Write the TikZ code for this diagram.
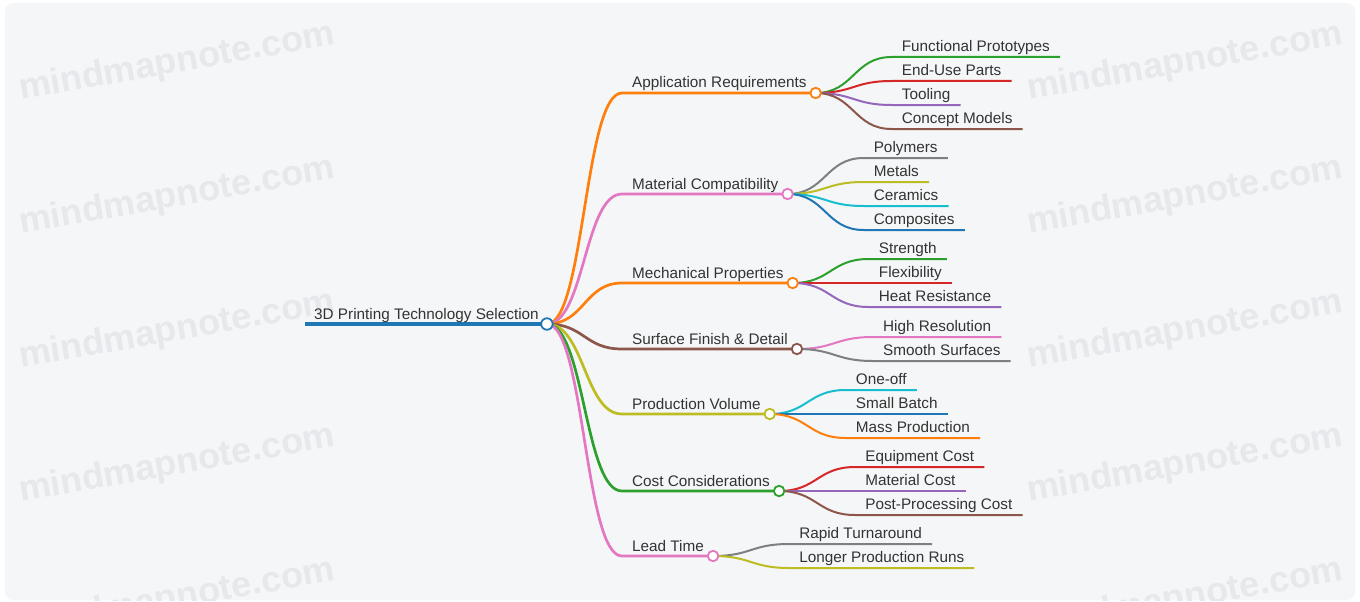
\documentclass[tikz,border=0pt]{standalone}
\usepackage{fontspec}
\setmainfont{Liberation Sans}
\usetikzlibrary{calc}

\pgfdeclarelayer{bg}
\pgfdeclarelayer{links}
\pgfsetlayers{bg,links,main}

% category palette
\definecolor{cblue}{HTML}{1F77B4}
\definecolor{corange}{HTML}{FF7F0E}
\definecolor{cgreen}{HTML}{2CA02C}
\definecolor{cred}{HTML}{D62728}
\definecolor{cpurple}{HTML}{9467BD}
\definecolor{cbrown}{HTML}{8C564B}
\definecolor{cpink}{HTML}{E377C2}
\definecolor{cgray}{HTML}{7F7F7F}
\definecolor{colive}{HTML}{BCBD22}
\definecolor{ccyan}{HTML}{17BECF}
\definecolor{ink}{HTML}{333333}
\definecolor{panel}{HTML}{F5F6F8}
\definecolor{wmgray}{HTML}{E7E8EB}

\tikzset{
  labeltext/.style={text=ink, font=\fontsize{15.3}{18}\selectfont, inner ysep=0pt},
  leaftext/.style={labeltext, inner xsep=10pt},
  branchtext/.style={labeltext, inner xsep=0pt},
  dot/.style={circle, fill=white, line width=1.8pt, inner sep=0pt, minimum size=10.5pt},
  leafline/.style={line width=2pt},
  branchline/.style={line width=2.7pt},
  rootline/.style={line width=4pt},
  wm/.style={font=\fontsize{36}{40}\selectfont\bfseries, text=wmgray, rotate=10},
}

% main topic: #1 name, #2 colour, #3 vertical offset from the root, #4 label
\newcommand{\mmbranch}[4]{%
  \coordinate (#1-s) at ($(root)+(75,#3)$);
  \node[branchtext, anchor=base west] (#1-t) at ($(#1-s)+(10,-5)$) {#4};
  \node[dot, draw=#2] (#1) at ($(#1-t.base east)+(9,5)$) {};
  \begin{pgfonlayer}{links}
    \draw[branchline, #2] let \p1=(root), \p2=(#1-s) in
      (\p1) .. controls ({(\x1+\x2)/2},\y1) and ({(\x1+\x2)/2},\y2) .. (\p2) -- (#1.center);
  \end{pgfonlayer}
}

% subtopic: #1 name, #2 parent, #3 colour, #4 vertical offset, #5 label
\newcommand{\mmleaf}[5]{%
  \coordinate (#1-s) at ($(#2)+(76,#4)$);
  \node[leaftext, anchor=base west] (#1) at ($(#1-s)+(0,-5.5)$) {#5};
  \begin{pgfonlayer}{links}
    \draw[leafline, #3] let \p1=(#2), \p2=(#1-s) in
      (\p1) .. controls ({(\x1+\x2)/2},\y1) and ({(\x1+\x2)/2},\y2) .. (\p2)
      -- (#1.base east |- #1-s);
  \end{pgfonlayer}
}

\begin{document}
\begin{tikzpicture}[x=1pt, y=-1pt]
  \useasboundingbox (0,0) rectangle (1360,602);

  \begin{pgfonlayer}{bg}
    \fill[white] (0,0) rectangle (1360,602);
    \fill[panel, rounded corners=8pt] (5,3) rectangle (1355,600);
    \begin{scope}
      \clip[rounded corners=8pt] (5,3) rectangle (1355,600);
      \foreach \wy in {63,197,331,465,599} {
        \node[wm] at (177,\wy) {mindmapnote.com};
        \node[wm] at (1185,\wy) {mindmapnote.com};
      }
    \end{scope}
  \end{pgfonlayer}

  % central topic
  \coordinate (root-s) at (305,324);
  \node[branchtext, anchor=base west] (root-t) at (314,319) {3D Printing Technology Selection};
  \node[dot, draw=cblue, minimum size=11.5pt] (root) at ($(root-t.base east)+(8,5)$) {};
  \begin{pgfonlayer}{links}
    \draw[rootline, cblue] (root-s) -- (root.center);
  \end{pgfonlayer}

  % main topics
  \mmbranch{app}{corange}{-231}{Application Requirements}
  \mmbranch{mat}{cpink}{-130}{Material Compatibility}
  \mmbranch{mech}{corange}{-41}{Mechanical Properties}
  \mmbranch{surf}{cbrown}{25}{Surface Finish \& Detail}
  \mmbranch{prod}{colive}{90}{Production Volume}
  \mmbranch{cost}{cgreen}{167}{Cost Considerations}
  \mmbranch{lead}{cpink}{232}{Lead Time}

  % subtopics
  \mmleaf{fp}{app}{cgreen}{-36}{Functional Prototypes}
  \mmleaf{eu}{app}{cred}{-12}{End-Use Parts}
  \mmleaf{tool}{app}{cpurple}{12}{Tooling}
  \mmleaf{cm}{app}{cbrown}{36}{Concept Models}

  \mmleaf{poly}{mat}{cgray}{-36}{Polymers}
  \mmleaf{met}{mat}{colive}{-12}{Metals}
  \mmleaf{cer}{mat}{ccyan}{12}{Ceramics}
  \mmleaf{comp}{mat}{cblue}{36}{Composites}

  \mmleaf{str}{mech}{cgreen}{-24}{Strength}
  \mmleaf{flex}{mech}{cred}{0}{Flexibility}
  \mmleaf{heat}{mech}{cpurple}{24}{Heat Resistance}

  \mmleaf{hr}{surf}{cpink}{-12}{High Resolution}
  \mmleaf{ss}{surf}{cgray}{12}{Smooth Surfaces}

  \mmleaf{one}{prod}{ccyan}{-24}{One-off}
  \mmleaf{sb}{prod}{cblue}{0}{Small Batch}
  \mmleaf{mp}{prod}{corange}{24}{Mass Production}

  \mmleaf{eq}{cost}{cred}{-24}{Equipment Cost}
  \mmleaf{mc}{cost}{cpurple}{0}{Material Cost}
  \mmleaf{pp}{cost}{cbrown}{24}{Post-Processing Cost}

  \mmleaf{rt}{lead}{cgray}{-12}{Rapid Turnaround}
  \mmleaf{lpr}{lead}{colive}{12}{Longer Production Runs}
\end{tikzpicture}
\end{document}
